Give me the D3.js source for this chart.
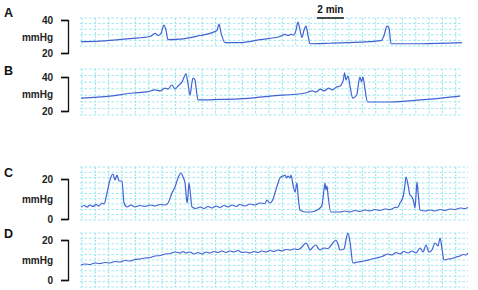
<!DOCTYPE html>
<html>
<head>
<meta charset="utf-8">
<script src="https://cdn.jsdelivr.net/npm/d3@7"></script>
<style>
body{margin:0;background:#fff;}
svg{display:block;font-family:'Liberation Sans',Arial,sans-serif;}
</style>
</head>
<body>
<svg id="chart" width="478" height="290"></svg>
<script>
// time in minutes, pressure in mmHg
var traceA = [[0.07,26.9],[1.48,27.2],[3.7,28.75],[5.19,30],[5.56,31.9],[5.78,30.6],[6.0,31.9],[6.22,36.9],[6.37,33.75],[6.52,28.1],[7.41,28.4],[8.89,30.6],[9.85,32.5],[10.15,33.75],[10.3,37.5],[10.44,32.5],[10.74,26.25],[11.85,26.25],[13.33,28.1],[14.81,30],[15.19,31.25],[15.41,30.6],[15.63,31.25],[15.85,30.9],[16.0,33.75],[16.15,38.75],[16.3,33.75],[16.44,29.4],[16.59,33.75],[16.74,36.25],[16.89,30.6],[17.04,25.6],[18.52,25.9],[20.74,26.6],[22.3,27.5],[22.52,30.6],[22.74,36.25],[22.89,35],[23.04,25.6],[25.19,25.6],[28.3,26.25]];

var traceB = [[0.07,27.6],[2.22,28.8],[3.93,30.6],[4.96,31.2],[5.56,32.4],[5.93,31.8],[6.3,33.5],[6.52,32.9],[6.81,35.3],[7.04,32.9],[7.26,34.7],[7.56,37.1],[7.85,41.8],[8.0,35.9],[8.15,29.4],[8.3,37.1],[8.37,39.4],[8.52,38.2],[8.6,33.5],[8.74,26.5],[10.4,26.8],[11.85,27.1],[14.1,28.8],[16.7,30.6],[17.2,31.8],[17.5,31.2],[17.8,32.9],[18.1,31.8],[18.4,33.5],[18.7,32.4],[19.0,34.1],[19.26,34.7],[19.5,38.2],[19.6,42.4],[19.7,38.2],[19.85,40.6],[20.0,34.7],[20.2,27.6],[20.5,29.4],[20.67,38.2],[20.74,40],[20.85,37.1],[20.96,40],[21.1,33.5],[21.3,25.3],[22.96,25.3],[25.2,26.5],[28.15,28.8]];

var traceC = [[0.07,6],[0.3,6.75],[0.52,6],[0.74,7],[0.96,6.25],[1.19,7.25],[1.41,6.5],[1.63,8],[1.78,7.5],[2.0,13],[2.22,19.5],[2.44,22.5],[2.59,19.5],[2.74,22],[2.89,19],[3.11,19],[3.26,8],[3.48,6],[3.78,7],[4.07,6],[4.44,6.75],[4.81,6.25],[5.19,7],[5.56,6.5],[5.93,7.25],[6.3,7],[6.52,8],[6.81,13],[7.04,16],[7.26,20.5],[7.48,23],[7.63,21],[7.78,18],[7.93,8],[8.0,12],[8.07,18],[8.15,14.5],[8.3,6],[8.59,5.25],[8.89,6],[9.19,5.25],[9.48,6.25],[9.78,5.5],[10.07,6.5],[10.37,5.75],[10.67,6.75],[10.96,6],[11.26,7],[11.56,6.25],[11.85,7.25],[12.22,6.5],[12.59,7.5],[12.96,7],[13.33,8],[13.7,7.75],[13.85,9.5],[14.07,8],[14.3,10],[14.44,13],[14.67,18],[14.81,20.5],[15.04,21.5],[15.19,22],[15.3,20.5],[15.41,21.5],[15.56,20.5],[15.63,22],[15.78,17],[15.93,13.5],[16.07,18],[16.15,12],[16.3,4.5],[16.67,3.5],[17.04,3.5],[17.41,4],[17.78,5.5],[17.93,7],[18.07,14.5],[18.15,18],[18.22,14.5],[18.3,16.5],[18.37,12],[18.59,3.5],[19.26,3.5],[19.63,4],[20.0,3.5],[20.37,4.25],[20.74,3.75],[21.11,4.5],[21.48,4],[21.85,4.75],[22.22,4.25],[22.59,5],[22.96,4.75],[23.33,5.75],[23.56,6],[23.7,8],[23.93,11],[24.07,17],[24.15,21],[24.3,17],[24.44,12],[24.59,11],[24.74,8],[24.81,5.5],[24.89,12],[24.96,18.5],[25.04,13.5],[25.19,4.5],[25.56,4],[25.93,4.5],[26.3,4],[26.67,4.75],[27.04,4.25],[27.41,5],[27.78,4.75],[28.15,5.5],[28.52,5.25],[28.74,5.75]];

var traceD = [[0.07,7.5],[0.37,8],[0.74,7.75],[1.11,8.5],[1.48,8.25],[1.85,8.75],[2.22,8.5],[2.59,9.25],[2.96,9],[3.33,9.75],[3.7,9.5],[4.07,10.25],[4.44,10.5],[4.81,11],[5.19,11.25],[5.56,12],[5.93,12.25],[6.3,13],[6.67,13.25],[7.04,14],[7.41,13.5],[7.63,14.25],[7.85,13.5],[8.15,14],[8.44,13],[8.74,13.75],[9.04,13],[9.33,14],[9.63,13.5],[9.93,14.25],[10.22,13.75],[10.52,14.5],[10.81,13.75],[11.11,14.5],[11.41,14],[11.7,14.75],[12.0,13.75],[12.3,14],[12.59,13.5],[12.89,14.25],[13.19,13.75],[13.48,14.5],[13.78,14],[14.07,14.75],[14.37,14.25],[14.67,15],[14.96,14.5],[15.26,15.25],[15.56,15],[15.85,15.5],[16.15,15.25],[16.44,16.5],[16.74,18.5],[16.89,17],[17.04,15],[17.26,16.5],[17.48,17.5],[17.63,16],[17.78,15],[18.07,16],[18.37,15.75],[18.67,18],[18.96,20],[19.11,18],[19.26,15],[19.56,15.5],[19.7,20],[19.85,23.5],[20.0,19],[20.22,8.5],[20.59,9],[21.04,9.5],[21.48,10.25],[21.93,11],[22.37,11.75],[22.81,13],[23.11,12.5],[23.41,13.75],[23.7,13],[24.0,14.25],[24.3,13.5],[24.59,14.5],[24.89,13.5],[25.19,16],[25.41,14],[25.63,17.5],[25.85,14],[26.07,15],[26.3,18.5],[26.52,17],[26.67,21],[26.81,16],[26.96,10],[27.26,10.5],[27.56,10.75],[27.85,11.5],[28.15,12],[28.37,12.75],[28.59,12.5],[28.74,13.5]];

var panelLabels = ['A','B','C','D'];
var ticksAB = [20,40];
var ticksCD = [0,20];
var scaleBarStart = 17.55;   // minutes
var scaleBarLength = 2;      // minutes
var scaleBarText = '2 min';

var panels = [
	{label:panelLabels[0], data:traceA, ticks:ticksAB, domain:[20,40], yTop:20, yBot:53, labelY:17, gridTop:18, gridBot:46, rows:6, gridRight:462},
	{label:panelLabels[1], data:traceB, ticks:ticksAB, domain:[20,40], yTop:77, yBot:111, labelY:75, gridTop:69, gridBot:115, rows:8, gridRight:462},
	{label:panelLabels[2], data:traceC, ticks:ticksCD, domain:[0,20], yTop:179, yBot:219, labelY:177, gridTop:167, gridBot:220, rows:11, gridRight:468},
	{label:panelLabels[3], data:traceD, ticks:ticksCD, domain:[0,20], yTop:240, yBot:280, labelY:238, gridTop:233, gridBot:287, rows:11, gridRight:468}
];

var svg = d3.select('#chart');

var xScale = d3.scaleLinear()
				.domain([0,30])
				.range([80,485]);

function drawPanel(p){
	var yScale = d3.scaleLinear()
					.domain(p.domain)
					.range([p.yBot,p.yTop]);

	var g = svg.append('g');

	//chart paper grid
	var vLines = d3.range(82,p.gridRight+0.5,13.35);
	g.selectAll('.vgrid')
		.data(vLines)
		.enter()
		.append('line')
		.attr('x1',d=>d).attr('x2',d=>d)
		.attr('y1',p.gridTop).attr('y2',p.gridBot)
		.attr('stroke','#8fe3ea')
		.attr('stroke-width',1)
		.attr('stroke-dasharray','2,1.5');

	var hLines = d3.range(p.rows).map(i => p.gridTop + i*(p.gridBot-p.gridTop)/(p.rows-1));
	g.selectAll('.hgrid')
		.data(hLines)
		.enter()
		.append('line')
		.attr('x1',80).attr('x2',p.gridRight)
		.attr('y1',d=>d).attr('y2',d=>d)
		.attr('stroke','#9fe8ee')
		.attr('stroke-width',1)
		.attr('stroke-dasharray','2.5,2');

	//trace
	var lineGen = d3.line()
					.x(d => xScale(d[0]))
					.y(d => yScale(d[1]))
					.curve(d3.curveMonotoneX);

	g.append('path')
		.datum(p.data)
		.attr('d',lineGen)
		.attr('fill','none')
		.attr('stroke','#4262d4')
		.attr('stroke-width',1.2)
		.attr('stroke-linejoin','round');

	//bracket axis
	var axisGen = d3.axisLeft(yScale)
					.tickValues(p.ticks)
					.tickSize(7)
					.tickSizeOuter(7)
					.tickPadding(8);

	var ax = g.append('g')
		.attr('transform','translate(68,0)')
		.call(axisGen);

	ax.select('.domain').attr('stroke','#111').attr('stroke-width',1.3);
	ax.selectAll('.tick line').attr('stroke','#111').attr('stroke-width',1.3);
	ax.selectAll('.tick text')
		.attr('font-size',10)
		.attr('font-weight','bold')
		.attr('fill','#222')
		.attr('font-family','Liberation Sans, Arial, sans-serif');

	g.append('text')
		.text('mmHg')
		.attr('x',53)
		.attr('y',(p.yTop+p.yBot)/2+4)
		.attr('text-anchor','end')
		.attr('font-size',10)
		.attr('font-weight','bold')
		.attr('fill','#222');

	g.append('text')
		.text(p.label)
		.attr('x',4)
		.attr('y',p.labelY)
		.attr('font-size',12.5)
		.attr('font-weight','bold')
		.attr('fill','#111');
}

panels.forEach(drawPanel);

//scale bar
svg.append('line')
	.attr('x1',xScale(scaleBarStart))
	.attr('x2',xScale(scaleBarStart+scaleBarLength))
	.attr('y1',18).attr('y2',18)
	.attr('stroke','#111')
	.attr('stroke-width',1.5);

svg.append('text')
	.text(scaleBarText)
	.attr('x',xScale(scaleBarStart+scaleBarLength/2))
	.attr('y',13)
	.attr('text-anchor','middle')
	.attr('font-size',10)
	.attr('font-weight','bold')
	.attr('fill','#111');
</script>
</body>
</html>
